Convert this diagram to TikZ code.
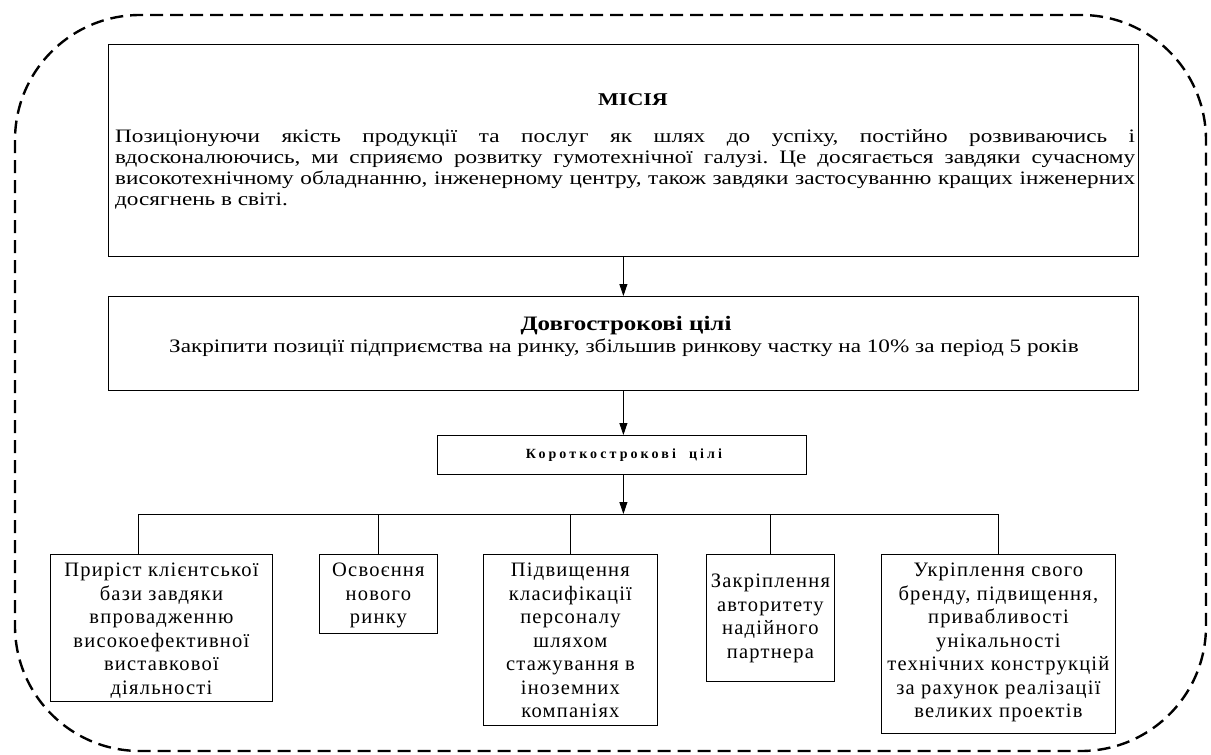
\documentclass[tikz,border=0pt]{standalone}
\usepackage{fontspec}
\setmainfont{Liberation Serif}
\newfontfamily\wideserif[FakeStretch=1.22]{Liberation Serif}
\newfontfamily\spacedserif[LetterSpace=6]{Liberation Serif}
\newfontfamily\widebold[LetterSpace=22]{Liberation Serif}
\usetikzlibrary{arrows.meta}
\frenchspacing
\begin{document}
\begin{tikzpicture}[x=1pt,y=-1pt,
  frame/.style={draw, line width=0.8pt, inner sep=0pt},
  link/.style={line width=0.8pt},
  flow/.style={line width=0.8pt, -{Triangle[length=12pt,width=8pt]}},
  outline/.style={line width=2.4pt, dash pattern=on 13pt off 7pt, rounded corners=125pt},
  boxtext/.style={anchor=north, align=center, inner sep=0pt,
    font=\spacedserif\fontsize{20.5}{23.5}\selectfont}]
\useasboundingbox (0,0) rectangle (1211,755);
% outer dashed frame
\draw[outline] (15,15) rectangle (1206,751);

% mission
\node[frame, anchor=north west, minimum width=1030pt, minimum height=212pt] (mission) at (108,44) {};
\node[font=\wideserif\bfseries\fontsize{18}{21}\selectfont] (missiontitle) at (633,100) {МІСІЯ};
\node[anchor=north west, inner sep=0pt, text width=1020pt, align=justify,
      font=\wideserif\fontsize{19}{21}\selectfont] (missiontext) at (115,129)
  {Позиціонуючи якість продукції та послуг як шлях до успіху, постійно розвиваючись і\linebreak
   вдосконалюючись, ми сприяємо розвитку гумотехнічної галузі. Це досягається завдяки сучасному\linebreak
   високотехнічному обладнанню, інженерному центру, також завдяки застосуванню кращих інженерних\linebreak
   досягнень в світі.};

% long-term goals
\node[frame, anchor=north west, minimum width=1030pt, minimum height=94pt] (longterm) at (108,296) {};
\node[font=\wideserif\bfseries\fontsize{20.5}{22}\selectfont] (longtitle) at (626,326) {Довгострокові цілі};
\node[font=\wideserif\fontsize{19}{21}\selectfont] (longtext) at (624,348)
  {Закріпити позиції підприємства на ринку, збільшив ринкову частку на 10\% за період 5 років};

% short-term goals
\node[frame, anchor=north west, minimum width=369pt, minimum height=39pt] (shortterm) at (437,435) {};
\node[font=\widebold\bfseries\fontsize{14}{16}\selectfont] (shorttitle) at (624,455) {Короткострокові\ \ цілі};

% goal boxes
\node[frame, anchor=north west, minimum width=222pt, minimum height=147pt] (b1) at (50,554) {};
\node[frame, anchor=north west, minimum width=118pt, minimum height=79pt] (b2) at (319,554) {};
\node[frame, anchor=north west, minimum width=174pt, minimum height=171pt] (b3) at (483,554) {};
\node[frame, anchor=north west, minimum width=128pt, minimum height=127pt] (b4) at (706,554) {};
\node[frame, anchor=north west, minimum width=234pt, minimum height=179pt] (b5) at (881,554) {};

\node[boxtext] (b1t) at ([yshift=-9pt]b1.north)
  {Приріст клієнтської\\бази завдяки\\впровадженню\\високоефективної\\виставкової\\діяльності};
\node[boxtext] (b2t) at ([yshift=-9pt]b2.north) {Освоєння\\нового\\ринку};
\node[boxtext] (b3t) at ([yshift=-9pt]b3.north)
  {Підвищення\\класифікації\\персоналу\\шляхом\\стажування в\\іноземних\\компаніях};
\node[boxtext] (b4t) at ([yshift=-20pt]b4.north) {Закріплення\\авторитету\\надійного\\партнера};
\node[boxtext] (b5t) at ([yshift=-9pt]b5.north)
  {Укріплення свого\\бренду, підвищення,\\привабливості\\унікальності\\технічних конструкцій\\за рахунок реалізації\\великих проектів};

% connectors
\coordinate (busL) at (138,514);
\coordinate (busR) at (998,514);
\draw[flow] (mission.south) -- (longterm.north);
\draw[flow] (longterm.south) -- (longterm.south |- shortterm.north);
\draw[flow] (longterm.south |- shortterm.south) -- (longterm.south |- busL);
\draw[link] (busL) -- (busR);
\draw[link] (busL) -- (busL |- b1.north);
\draw[link] (b2.north |- busL) -- (b2.north);
\draw[link] (b3.north |- busL) -- (b3.north);
\draw[link] (b4.north |- busL) -- (b4.north);
\draw[link] (busR) -- (busR |- b5.north);
\end{tikzpicture}
\end{document}
